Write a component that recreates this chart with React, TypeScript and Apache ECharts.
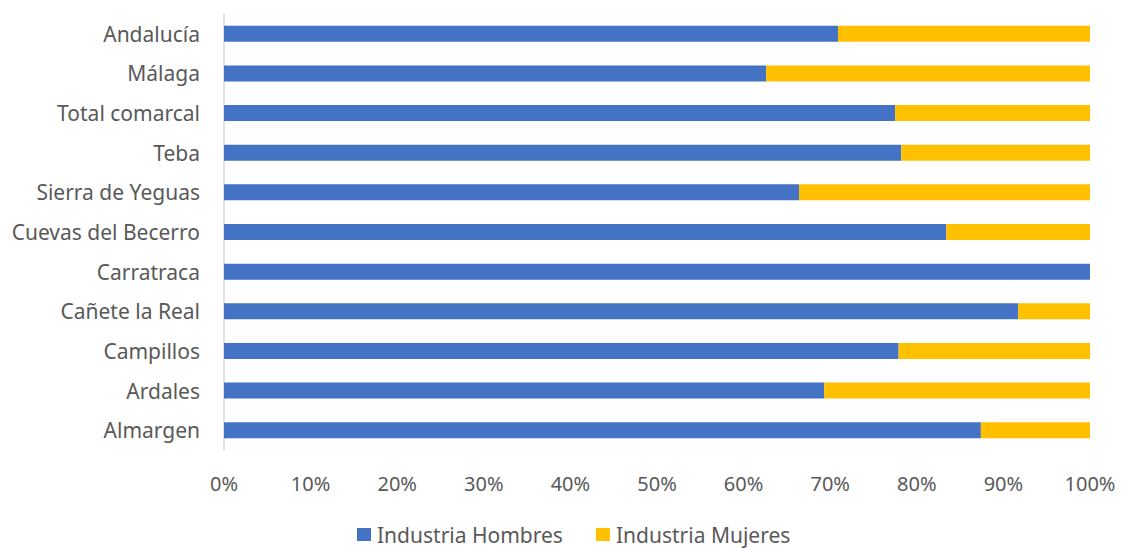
import React, { useEffect, useRef } from "react";
import * as echarts from "echarts";

const categories = [
  "Almargen",
  "Ardales",
  "Campillos",
  "Cañete la Real",
  "Carratraca",
  "Cuevas del Becerro",
  "Sierra de Yeguas",
  "Teba",
  "Total comarcal",
  "Málaga",
  "Andalucía",
];

const hombres = [87.4, 69.3, 77.9, 91.7, 100, 83.4, 66.4, 78.2, 77.5, 62.6, 70.9];
const mujeres = [12.6, 30.7, 22.1, 8.3, 0, 16.6, 33.6, 21.8, 22.5, 37.4, 29.1];

const seriesNames = ["Industria Hombres", "Industria Mujeres"];

export default function App() {
  const ref = useRef<HTMLDivElement>(null);
  useEffect(() => {
    if (!ref.current) return;
    const chart = echarts.init(ref.current, undefined, { renderer: "svg" });
    const font = "'Noto Sans', sans-serif";
    chart.setOption({
      animation: false,
      textStyle: { fontFamily: font },
      grid: { left: 224, right: 31, top: 14, bottom: 98, containLabel: false },
      legend: {
        top: 524,
        left: 357,
        padding: 0,
        itemWidth: 14,
        itemHeight: 13,
        itemGap: 33,
        icon: "rect",
        textStyle: { color: "#595959", fontSize: 21, fontFamily: font, padding: [0, 0, 0, 1] },
        data: seriesNames,
      },
      xAxis: {
        type: "value",
        min: 0,
        max: 100,
        interval: 10,
        axisLine: { show: false },
        axisTick: { show: false },
        splitLine: { show: false },
        axisLabel: {
          formatter: (v: number) => `${v}%`,
          color: "#595959",
          fontSize: 20,
          margin: 23,
          fontFamily: font,
        },
      },
      yAxis: {
        type: "category",
        data: categories,
        axisLine: { show: true, lineStyle: { color: "#d9d9d9", width: 1.5 } },
        axisTick: { show: false },
        axisLabel: { color: "#595959", fontSize: 21, margin: 24, fontFamily: font },
      },
      series: [
        {
          name: seriesNames[0],
          type: "bar",
          stack: "total",
          data: hombres,
          barWidth: 16,
          itemStyle: { color: "#4472C4" },
        },
        {
          name: seriesNames[1],
          type: "bar",
          stack: "total",
          data: mujeres,
          barWidth: 16,
          itemStyle: { color: "#FFC000" },
        },
      ],
    });
    return () => chart.dispose();
  }, []);
  return (
    <div
      ref={ref}
      style={{ position: "fixed", left: 0, top: 0, width: 1121, height: 548, background: "#fff" }}
    />
  );
}
